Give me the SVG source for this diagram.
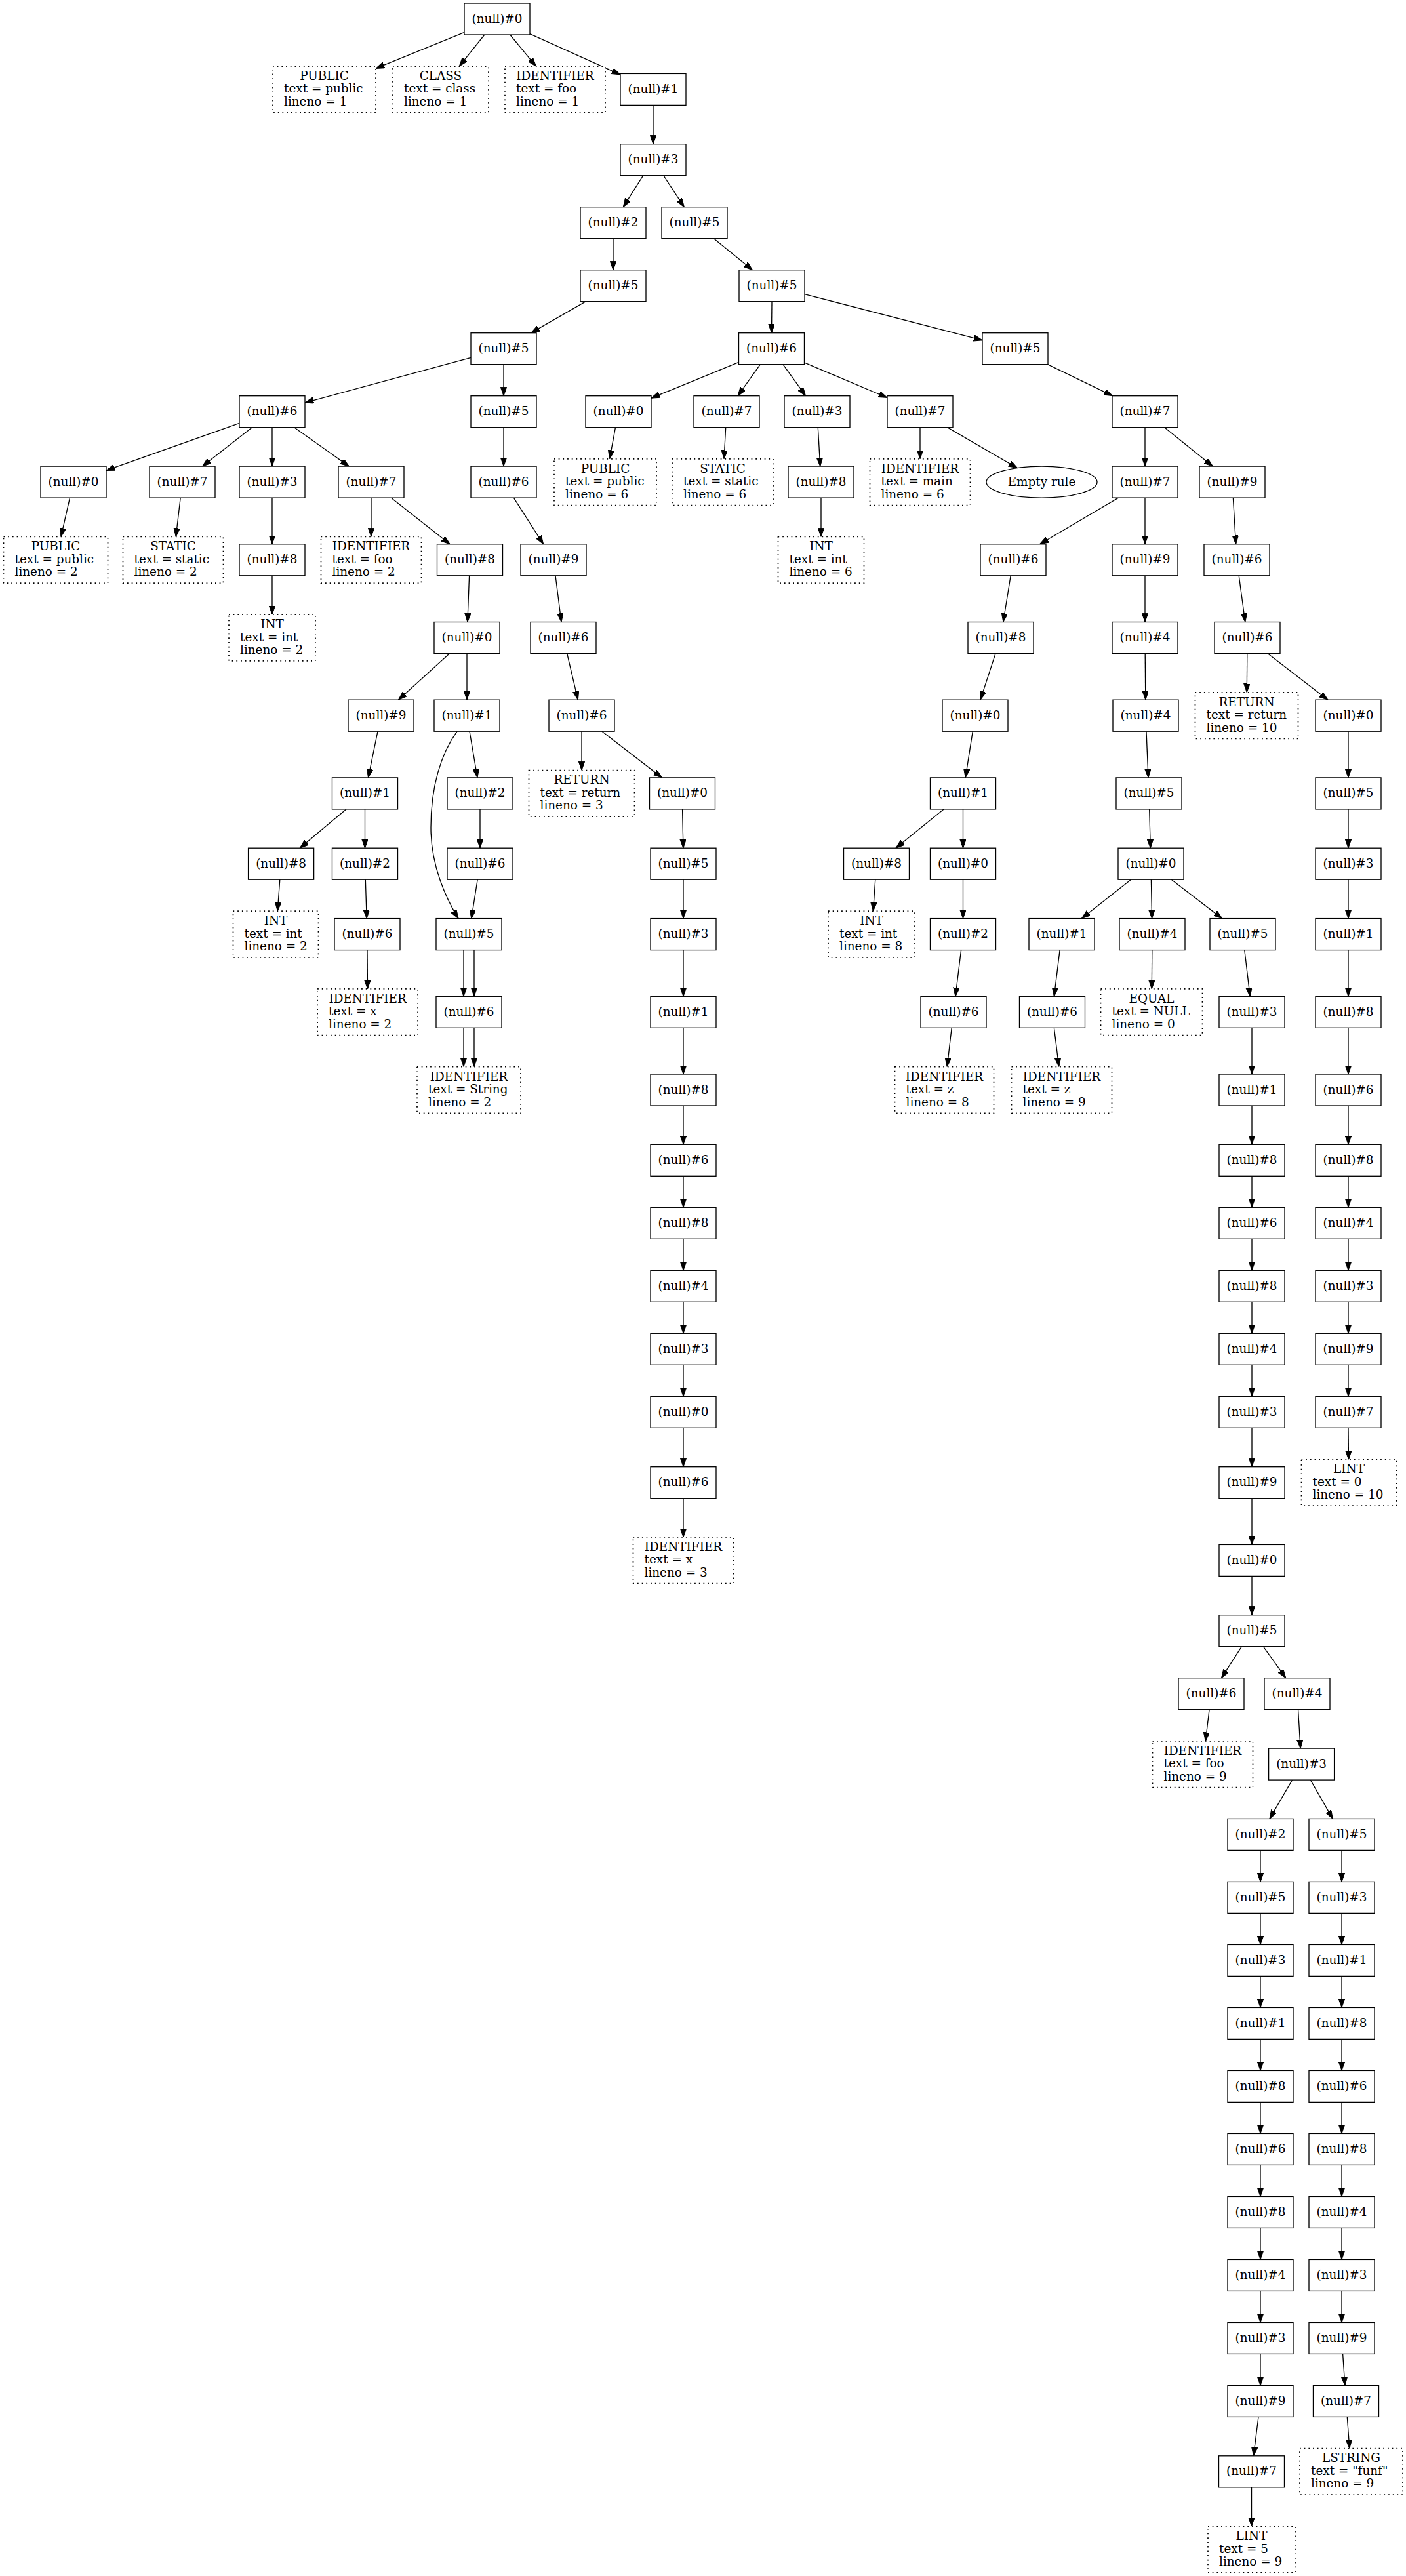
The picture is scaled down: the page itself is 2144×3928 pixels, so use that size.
<svg xmlns="http://www.w3.org/2000/svg" width="2144" height="3928" viewBox="0 0 2144 3928">
<style>
.b{fill:#fff;stroke:#000;stroke-width:1.33}
.d{fill:#fff;stroke:#000;stroke-width:1.7;stroke-dasharray:1.7 5}
text{font-family:"DejaVu Serif","Liberation Serif",serif;font-size:18.4px;fill:#000}
.c{text-anchor:middle}
.e line,.e path{stroke:#000;stroke-width:1.33;fill:none;marker-end:url(#ah)}
</style>
<defs>
<marker id="ah" markerUnits="userSpaceOnUse" markerWidth="14" markerHeight="10" refX="13.3" refY="4.67" orient="auto" viewBox="0 0 14 10"><path d="M0,0 L13.3,4.67 L0,9.33 z" fill="#000" stroke="#000" stroke-width="1"/></marker>
</defs>
<rect width="2144" height="3928" fill="#fff"/>
<g id="edges" class="e">
<line x1="708" y1="49.4" x2="573" y2="104.4"/>
<line x1="738.8" y1="53" x2="700.3" y2="101.1"/>
<line x1="777.8" y1="53" x2="817.4" y2="101.1"/>
<line x1="808" y1="51.6" x2="946" y2="113.8"/>
<line x1="996" y1="160.4" x2="996" y2="219.7"/>
<line x1="980.8" y1="267.7" x2="950.3" y2="315.7"/>
<line x1="1011.8" y1="267.7" x2="1043.3" y2="315.7"/>
<line x1="935" y1="363.7" x2="935" y2="411.7"/>
<line x1="1088.5" y1="363.7" x2="1147.5" y2="411.7"/>
<line x1="893.3" y1="459.7" x2="809.8" y2="507.7"/>
<line x1="1177" y1="459.7" x2="1176.5" y2="507.7"/>
<line x1="1227" y1="448.6" x2="1498" y2="518.8"/>
<line x1="718" y1="545.3" x2="465" y2="614.1"/>
<line x1="768" y1="555.7" x2="768" y2="603.7"/>
<line x1="1126.5" y1="552.3" x2="993" y2="607.1"/>
<line x1="1159.4" y1="555.7" x2="1125.1" y2="603.7"/>
<line x1="1193.9" y1="555.7" x2="1228.6" y2="603.7"/>
<line x1="1226.5" y1="552.9" x2="1353" y2="606.5"/>
<line x1="1597.5" y1="555.7" x2="1696.5" y2="603.7"/>
<line x1="365" y1="645.4" x2="162" y2="717.4"/>
<line x1="384.4" y1="651.7" x2="308.6" y2="711.1"/>
<line x1="415" y1="651.7" x2="415" y2="711.1"/>
<line x1="448.7" y1="651.7" x2="532.3" y2="711.1"/>
<line x1="768" y1="651.7" x2="768" y2="711.1"/>
<line x1="938.5" y1="651.7" x2="929.6" y2="699.8"/>
<line x1="1106.7" y1="651.7" x2="1104" y2="699.8"/>
<line x1="1247.3" y1="651.7" x2="1250.7" y2="711.1"/>
<line x1="1403" y1="651.7" x2="1403" y2="699.8"/>
<line x1="1444.5" y1="651.7" x2="1551.3" y2="713.6"/>
<line x1="1746" y1="651.7" x2="1746" y2="711.1"/>
<line x1="1775.7" y1="651.7" x2="1849.3" y2="711.1"/>
<line x1="106.5" y1="759.1" x2="93" y2="818.5"/>
<line x1="275.2" y1="759.1" x2="268.2" y2="818.5"/>
<line x1="415" y1="759.1" x2="415" y2="829.8"/>
<line x1="566" y1="759.1" x2="566" y2="818.5"/>
<line x1="596.4" y1="759.1" x2="686.1" y2="829.8"/>
<line x1="783.4" y1="759.1" x2="828.6" y2="829.8"/>
<line x1="1252" y1="759.1" x2="1252" y2="818.5"/>
<line x1="1705.4" y1="759.1" x2="1585.6" y2="829.8"/>
<line x1="1746" y1="759.1" x2="1746" y2="829.8"/>
<line x1="1880.4" y1="759.1" x2="1884.6" y2="829.8"/>
<line x1="415" y1="877.8" x2="415" y2="937.1"/>
<line x1="715.6" y1="877.8" x2="712.9" y2="948.5"/>
<line x1="847" y1="877.8" x2="856" y2="948.5"/>
<line x1="1541.2" y1="877.8" x2="1529.8" y2="948.5"/>
<line x1="1746" y1="877.8" x2="1746" y2="948.5"/>
<line x1="1889.2" y1="877.8" x2="1898.8" y2="948.5"/>
<line x1="685.5" y1="996.5" x2="607.5" y2="1067.2"/>
<line x1="712" y1="996.5" x2="712" y2="1067.2"/>
<line x1="864.7" y1="996.5" x2="881.3" y2="1067.2"/>
<line x1="1518.1" y1="996.5" x2="1494.9" y2="1067.2"/>
<line x1="1746.2" y1="996.5" x2="1746.8" y2="1067.2"/>
<line x1="1901.8" y1="996.5" x2="1901.3" y2="1055.8"/>
<line x1="1933.1" y1="996.5" x2="2024.9" y2="1067.2"/>
<line x1="576" y1="1115.2" x2="561.5" y2="1185.9"/>
<line x1="716" y1="1115.2" x2="728" y2="1185.9"/>
<path d="M697,1115.2 C672,1150 657,1200 657,1262 C657,1320 680,1370 699,1400.6"/>
<line x1="887" y1="1115.2" x2="887" y2="1174.5"/>
<line x1="918" y1="1115.2" x2="1009.5" y2="1185.9"/>
<line x1="1483.3" y1="1115.2" x2="1472.2" y2="1185.9"/>
<line x1="1748" y1="1115.2" x2="1751" y2="1185.9"/>
<line x1="2056" y1="1115.2" x2="2056" y2="1185.9"/>
<line x1="527.9" y1="1233.9" x2="457.2" y2="1293.2"/>
<line x1="556.5" y1="1233.9" x2="556.5" y2="1293.2"/>
<line x1="732" y1="1233.9" x2="732" y2="1293.2"/>
<line x1="1040.6" y1="1233.9" x2="1041.9" y2="1293.2"/>
<line x1="1439" y1="1233.9" x2="1366" y2="1293.2"/>
<line x1="1468.5" y1="1233.9" x2="1468.5" y2="1293.2"/>
<line x1="1752.7" y1="1233.9" x2="1754.3" y2="1293.2"/>
<line x1="2056" y1="1233.9" x2="2056" y2="1293.2"/>
<line x1="426.8" y1="1341.2" x2="423.2" y2="1389.2"/>
<line x1="557.3" y1="1341.2" x2="559.2" y2="1400.6"/>
<line x1="728.2" y1="1341.2" x2="718.8" y2="1400.6"/>
<line x1="1042" y1="1341.2" x2="1042" y2="1400.6"/>
<line x1="1334.8" y1="1341.2" x2="1331.5" y2="1389.2"/>
<line x1="1468.5" y1="1341.2" x2="1468.5" y2="1400.6"/>
<line x1="1724.6" y1="1341.2" x2="1649.4" y2="1400.6"/>
<line x1="1755.4" y1="1341.2" x2="1756.6" y2="1400.6"/>
<line x1="1786.3" y1="1341.2" x2="1863.7" y2="1400.6"/>
<line x1="2056" y1="1341.2" x2="2056" y2="1400.6"/>
<line x1="560" y1="1448.6" x2="560.5" y2="1507.9"/>
<line x1="707" y1="1448.6" x2="707" y2="1519.3"/>
<line x1="723" y1="1448.6" x2="723" y2="1519.3"/>
<line x1="1042" y1="1448.6" x2="1042" y2="1519.3"/>
<line x1="1465.6" y1="1448.6" x2="1456.9" y2="1519.3"/>
<line x1="1616.1" y1="1448.6" x2="1607.4" y2="1519.3"/>
<line x1="1756.8" y1="1448.6" x2="1756.3" y2="1507.9"/>
<line x1="1897.8" y1="1448.6" x2="1906.2" y2="1519.3"/>
<line x1="2056" y1="1448.6" x2="2056" y2="1519.3"/>
<line x1="707" y1="1567.3" x2="707" y2="1626.6"/>
<line x1="723" y1="1567.3" x2="723" y2="1626.6"/>
<line x1="1042" y1="1567.3" x2="1042" y2="1638"/>
<line x1="1451.2" y1="1567.3" x2="1444.2" y2="1626.6"/>
<line x1="1607.4" y1="1567.3" x2="1614.7" y2="1626.6"/>
<line x1="1909" y1="1567.3" x2="1909" y2="1638"/>
<line x1="2056" y1="1567.3" x2="2056" y2="1638"/>
<line x1="1042" y1="1686" x2="1042" y2="1745.3"/>
<line x1="1042" y1="1793.3" x2="1042" y2="1841.3"/>
<line x1="1042" y1="1889.3" x2="1042" y2="1937.3"/>
<line x1="1042" y1="1985.3" x2="1042" y2="2033.3"/>
<line x1="1042" y1="2081.3" x2="1042" y2="2129.3"/>
<line x1="1042" y1="2177.3" x2="1042" y2="2236.7"/>
<line x1="1042" y1="2284.7" x2="1042" y2="2344"/>
<line x1="1909" y1="1686" x2="1909" y2="1745.3"/>
<line x1="1909" y1="1793.3" x2="1909" y2="1841.3"/>
<line x1="1909" y1="1889.3" x2="1909" y2="1937.3"/>
<line x1="1909" y1="1985.3" x2="1909" y2="2033.3"/>
<line x1="1909" y1="2081.3" x2="1909" y2="2129.3"/>
<line x1="1909" y1="2177.3" x2="1909" y2="2236.7"/>
<line x1="1909" y1="2284.7" x2="1909" y2="2355.4"/>
<line x1="1909" y1="2403.4" x2="1909" y2="2462.7"/>
<line x1="2056" y1="1686" x2="2056" y2="1745.3"/>
<line x1="2056" y1="1793.3" x2="2056" y2="1841.3"/>
<line x1="2056" y1="1889.3" x2="2056" y2="1937.3"/>
<line x1="2056" y1="1985.3" x2="2056" y2="2033.3"/>
<line x1="2056" y1="2081.3" x2="2056" y2="2129.3"/>
<line x1="2056" y1="2177.3" x2="2056.5" y2="2225.4"/>
<line x1="1893.5" y1="2510.7" x2="1862.5" y2="2558.7"/>
<line x1="1926.3" y1="2510.7" x2="1960.8" y2="2558.7"/>
<line x1="1844.1" y1="2606.7" x2="1838.3" y2="2654.8"/>
<line x1="1979.5" y1="2606.7" x2="1983.1" y2="2666.1"/>
<line x1="1970.6" y1="2714.1" x2="1936" y2="2773.4"/>
<line x1="1998.3" y1="2714.1" x2="2032.3" y2="2773.4"/>
<line x1="1922" y1="2821.4" x2="1922" y2="2869.4"/>
<line x1="1922" y1="2917.4" x2="1922" y2="2965.4"/>
<line x1="1922" y1="3013.4" x2="1922" y2="3061.4"/>
<line x1="1922" y1="3109.4" x2="1922" y2="3157.4"/>
<line x1="1922" y1="3205.4" x2="1922" y2="3253.4"/>
<line x1="1922" y1="3301.4" x2="1922" y2="3349.4"/>
<line x1="1922" y1="3397.4" x2="1922" y2="3445.4"/>
<line x1="1922" y1="3493.4" x2="1922" y2="3541.4"/>
<line x1="1922" y1="3589.4" x2="1922" y2="3637.4"/>
<line x1="1919" y1="3685.4" x2="1911.5" y2="3744.8"/>
<line x1="1908.5" y1="3792.8" x2="1908.5" y2="3852.2"/>
<line x1="2046" y1="2821.4" x2="2046" y2="2869.4"/>
<line x1="2046" y1="2917.4" x2="2046" y2="2965.4"/>
<line x1="2046" y1="3013.4" x2="2046" y2="3061.4"/>
<line x1="2046" y1="3109.4" x2="2046" y2="3157.4"/>
<line x1="2046" y1="3205.4" x2="2046" y2="3253.4"/>
<line x1="2046" y1="3301.4" x2="2046" y2="3349.4"/>
<line x1="2046" y1="3397.4" x2="2046" y2="3445.4"/>
<line x1="2046" y1="3493.4" x2="2046" y2="3541.4"/>
<line x1="2047.6" y1="3589.4" x2="2050.9" y2="3637.4"/>
<line x1="2054.3" y1="3685.4" x2="2057.9" y2="3733.5"/>
</g>
<g id="n0"><rect class="b" x="708" y="5" width="100" height="48"/><text class="c" x="758" y="34.5">(null)#0</text></g>
<g id="n1"><rect class="b" x="946" y="112.4" width="100" height="48"/><text class="c" x="996" y="141.9">(null)#1</text></g>
<g id="n2"><rect class="b" x="946" y="219.7" width="100" height="48"/><text class="c" x="996" y="249.2">(null)#3</text></g>
<g id="n3"><rect class="b" x="885" y="315.7" width="100" height="48"/><text class="c" x="935" y="345.2">(null)#2</text></g>
<g id="n4"><rect class="b" x="1009" y="315.7" width="100" height="48"/><text class="c" x="1059" y="345.2">(null)#5</text></g>
<g id="n5"><rect class="b" x="885" y="411.7" width="100" height="48"/><text class="c" x="935" y="441.2">(null)#5</text></g>
<g id="n6"><rect class="b" x="1127" y="411.7" width="100" height="48"/><text class="c" x="1177" y="441.2">(null)#5</text></g>
<g id="n7"><rect class="b" x="718" y="507.7" width="100" height="48"/><text class="c" x="768" y="537.2">(null)#5</text></g>
<g id="n8"><rect class="b" x="1126.5" y="507.7" width="100" height="48"/><text class="c" x="1176.5" y="537.2">(null)#6</text></g>
<g id="n9"><rect class="b" x="1498" y="507.7" width="100" height="48"/><text class="c" x="1548" y="537.2">(null)#5</text></g>
<g id="n10"><rect class="b" x="365" y="603.7" width="100" height="48"/><text class="c" x="415" y="633.2">(null)#6</text></g>
<g id="n11"><rect class="b" x="718" y="603.7" width="100" height="48"/><text class="c" x="768" y="633.2">(null)#5</text></g>
<g id="n12"><rect class="b" x="893" y="603.7" width="100" height="48"/><text class="c" x="943" y="633.2">(null)#0</text></g>
<g id="n13"><rect class="b" x="1058" y="603.7" width="100" height="48"/><text class="c" x="1108" y="633.2">(null)#7</text></g>
<g id="n14"><rect class="b" x="1196" y="603.7" width="100" height="48"/><text class="c" x="1246" y="633.2">(null)#3</text></g>
<g id="n15"><rect class="b" x="1353" y="603.7" width="100" height="48"/><text class="c" x="1403" y="633.2">(null)#7</text></g>
<g id="n16"><rect class="b" x="1696" y="603.7" width="100" height="48"/><text class="c" x="1746" y="633.2">(null)#7</text></g>
<g id="n17"><rect class="b" x="62" y="711.1" width="100" height="48"/><text class="c" x="112" y="740.6">(null)#0</text></g>
<g id="n18"><rect class="b" x="228" y="711.1" width="100" height="48"/><text class="c" x="278" y="740.6">(null)#7</text></g>
<g id="n19"><rect class="b" x="365" y="711.1" width="100" height="48"/><text class="c" x="415" y="740.6">(null)#3</text></g>
<g id="n20"><rect class="b" x="516" y="711.1" width="100" height="48"/><text class="c" x="566" y="740.6">(null)#7</text></g>
<g id="n21"><rect class="b" x="718" y="711.1" width="100" height="48"/><text class="c" x="768" y="740.6">(null)#6</text></g>
<g id="n22"><rect class="b" x="1202" y="711.1" width="100" height="48"/><text class="c" x="1252" y="740.6">(null)#8</text></g>
<g id="n23"><rect class="b" x="1696" y="711.1" width="100" height="48"/><text class="c" x="1746" y="740.6">(null)#7</text></g>
<g id="n24"><rect class="b" x="1829" y="711.1" width="100" height="48"/><text class="c" x="1879" y="740.6">(null)#9</text></g>
<g id="n25"><rect class="b" x="365" y="829.8" width="100" height="48"/><text class="c" x="415" y="859.3">(null)#8</text></g>
<g id="n26"><rect class="b" x="666.5" y="829.8" width="100" height="48"/><text class="c" x="716.5" y="859.3">(null)#8</text></g>
<g id="n27"><rect class="b" x="794" y="829.8" width="100" height="48"/><text class="c" x="844" y="859.3">(null)#9</text></g>
<g id="n28"><rect class="b" x="1495" y="829.8" width="100" height="48"/><text class="c" x="1545" y="859.3">(null)#6</text></g>
<g id="n29"><rect class="b" x="1696" y="829.8" width="100" height="48"/><text class="c" x="1746" y="859.3">(null)#9</text></g>
<g id="n30"><rect class="b" x="1836" y="829.8" width="100" height="48"/><text class="c" x="1886" y="859.3">(null)#6</text></g>
<g id="n31"><rect class="b" x="662" y="948.5" width="100" height="48"/><text class="c" x="712" y="978">(null)#0</text></g>
<g id="n32"><rect class="b" x="809" y="948.5" width="100" height="48"/><text class="c" x="859" y="978">(null)#6</text></g>
<g id="n33"><rect class="b" x="1476" y="948.5" width="100" height="48"/><text class="c" x="1526" y="978">(null)#8</text></g>
<g id="n34"><rect class="b" x="1696" y="948.5" width="100" height="48"/><text class="c" x="1746" y="978">(null)#4</text></g>
<g id="n35"><rect class="b" x="1852" y="948.5" width="100" height="48"/><text class="c" x="1902" y="978">(null)#6</text></g>
<g id="n36"><rect class="b" x="531" y="1067.2" width="100" height="48"/><text class="c" x="581" y="1096.7">(null)#9</text></g>
<g id="n37"><rect class="b" x="662" y="1067.2" width="100" height="48"/><text class="c" x="712" y="1096.7">(null)#1</text></g>
<g id="n38"><rect class="b" x="837" y="1067.2" width="100" height="48"/><text class="c" x="887" y="1096.7">(null)#6</text></g>
<g id="n39"><rect class="b" x="1437" y="1067.2" width="100" height="48"/><text class="c" x="1487" y="1096.7">(null)#0</text></g>
<g id="n40"><rect class="b" x="1697" y="1067.2" width="100" height="48"/><text class="c" x="1747" y="1096.7">(null)#4</text></g>
<g id="n41"><rect class="b" x="2006" y="1067.2" width="100" height="48"/><text class="c" x="2056" y="1096.7">(null)#0</text></g>
<g id="n42"><rect class="b" x="506.5" y="1185.9" width="100" height="48"/><text class="c" x="556.5" y="1215.4">(null)#1</text></g>
<g id="n43"><rect class="b" x="682" y="1185.9" width="100" height="48"/><text class="c" x="732" y="1215.4">(null)#2</text></g>
<g id="n44"><rect class="b" x="990.5" y="1185.9" width="100" height="48"/><text class="c" x="1040.5" y="1215.4">(null)#0</text></g>
<g id="n45"><rect class="b" x="1418.5" y="1185.9" width="100" height="48"/><text class="c" x="1468.5" y="1215.4">(null)#1</text></g>
<g id="n46"><rect class="b" x="1702" y="1185.9" width="100" height="48"/><text class="c" x="1752" y="1215.4">(null)#5</text></g>
<g id="n47"><rect class="b" x="2006" y="1185.9" width="100" height="48"/><text class="c" x="2056" y="1215.4">(null)#5</text></g>
<g id="n48"><rect class="b" x="378.6" y="1293.2" width="100" height="48"/><text class="c" x="428.6" y="1322.7">(null)#8</text></g>
<g id="n50"><rect class="b" x="506.5" y="1293.2" width="100" height="48"/><text class="c" x="556.5" y="1322.7">(null)#2</text></g>
<g id="n51"><rect class="b" x="682" y="1293.2" width="100" height="48"/><text class="c" x="732" y="1322.7">(null)#6</text></g>
<g id="n52"><rect class="b" x="992" y="1293.2" width="100" height="48"/><text class="c" x="1042" y="1322.7">(null)#5</text></g>
<g id="n53"><rect class="b" x="1286.5" y="1293.2" width="100" height="48"/><text class="c" x="1336.5" y="1322.7">(null)#8</text></g>
<g id="n54"><rect class="b" x="1418.5" y="1293.2" width="100" height="48"/><text class="c" x="1468.5" y="1322.7">(null)#0</text></g>
<g id="n55"><rect class="b" x="1705" y="1293.2" width="100" height="48"/><text class="c" x="1755" y="1322.7">(null)#0</text></g>
<g id="n56"><rect class="b" x="2006" y="1293.2" width="100" height="48"/><text class="c" x="2056" y="1322.7">(null)#3</text></g>
<g id="n57"><rect class="b" x="510" y="1400.6" width="100" height="48"/><text class="c" x="560" y="1430.1">(null)#6</text></g>
<g id="n49"><rect class="b" x="665" y="1400.6" width="100" height="48"/><text class="c" x="715" y="1430.1">(null)#5</text></g>
<g id="n58"><rect class="b" x="992" y="1400.6" width="100" height="48"/><text class="c" x="1042" y="1430.1">(null)#3</text></g>
<g id="n59"><rect class="b" x="1418.5" y="1400.6" width="100" height="48"/><text class="c" x="1468.5" y="1430.1">(null)#2</text></g>
<g id="n60"><rect class="b" x="1569" y="1400.6" width="100" height="48"/><text class="c" x="1619" y="1430.1">(null)#1</text></g>
<g id="n61"><rect class="b" x="1707" y="1400.6" width="100" height="48"/><text class="c" x="1757" y="1430.1">(null)#4</text></g>
<g id="n62"><rect class="b" x="1845" y="1400.6" width="100" height="48"/><text class="c" x="1895" y="1430.1">(null)#5</text></g>
<g id="n63"><rect class="b" x="2006" y="1400.6" width="100" height="48"/><text class="c" x="2056" y="1430.1">(null)#1</text></g>
<g id="n64"><rect class="b" x="665" y="1519.3" width="100" height="48"/><text class="c" x="715" y="1548.8">(null)#6</text></g>
<g id="n65"><rect class="b" x="992" y="1519.3" width="100" height="48"/><text class="c" x="1042" y="1548.8">(null)#1</text></g>
<g id="n66"><rect class="b" x="1404" y="1519.3" width="100" height="48"/><text class="c" x="1454" y="1548.8">(null)#6</text></g>
<g id="n67"><rect class="b" x="1554.5" y="1519.3" width="100" height="48"/><text class="c" x="1604.5" y="1548.8">(null)#6</text></g>
<g id="n68"><rect class="b" x="1859" y="1519.3" width="100" height="48"/><text class="c" x="1909" y="1548.8">(null)#3</text></g>
<g id="n69"><rect class="b" x="2006" y="1519.3" width="100" height="48"/><text class="c" x="2056" y="1548.8">(null)#8</text></g>
<g id="n70"><rect class="b" x="992" y="1638" width="100" height="48"/><text class="c" x="1042" y="1667.5">(null)#8</text></g>
<g id="n71"><rect class="b" x="1859" y="1638" width="100" height="48"/><text class="c" x="1909" y="1667.5">(null)#1</text></g>
<g id="n72"><rect class="b" x="2006" y="1638" width="100" height="48"/><text class="c" x="2056" y="1667.5">(null)#6</text></g>
<g id="n73"><rect class="b" x="992" y="1745.3" width="100" height="48"/><text class="c" x="1042" y="1774.8">(null)#6</text></g>
<g id="n74"><rect class="b" x="992" y="1841.3" width="100" height="48"/><text class="c" x="1042" y="1870.8">(null)#8</text></g>
<g id="n75"><rect class="b" x="992" y="1937.3" width="100" height="48"/><text class="c" x="1042" y="1966.8">(null)#4</text></g>
<g id="n76"><rect class="b" x="992" y="2033.3" width="100" height="48"/><text class="c" x="1042" y="2062.8">(null)#3</text></g>
<g id="n77"><rect class="b" x="992" y="2129.3" width="100" height="48"/><text class="c" x="1042" y="2158.8">(null)#0</text></g>
<g id="n78"><rect class="b" x="992" y="2236.7" width="100" height="48"/><text class="c" x="1042" y="2266.2">(null)#6</text></g>
<g id="n79"><rect class="b" x="1859" y="1745.3" width="100" height="48"/><text class="c" x="1909" y="1774.8">(null)#8</text></g>
<g id="n80"><rect class="b" x="1859" y="1841.3" width="100" height="48"/><text class="c" x="1909" y="1870.8">(null)#6</text></g>
<g id="n81"><rect class="b" x="1859" y="1937.3" width="100" height="48"/><text class="c" x="1909" y="1966.8">(null)#8</text></g>
<g id="n82"><rect class="b" x="1859" y="2033.3" width="100" height="48"/><text class="c" x="1909" y="2062.8">(null)#4</text></g>
<g id="n83"><rect class="b" x="1859" y="2129.3" width="100" height="48"/><text class="c" x="1909" y="2158.8">(null)#3</text></g>
<g id="n84"><rect class="b" x="1859" y="2236.7" width="100" height="48"/><text class="c" x="1909" y="2266.2">(null)#9</text></g>
<g id="n85"><rect class="b" x="1859" y="2355.4" width="100" height="48"/><text class="c" x="1909" y="2384.9">(null)#0</text></g>
<g id="n86"><rect class="b" x="1859" y="2462.7" width="100" height="48"/><text class="c" x="1909" y="2492.2">(null)#5</text></g>
<g id="n87"><rect class="b" x="2006" y="1745.3" width="100" height="48"/><text class="c" x="2056" y="1774.8">(null)#8</text></g>
<g id="n88"><rect class="b" x="2006" y="1841.3" width="100" height="48"/><text class="c" x="2056" y="1870.8">(null)#4</text></g>
<g id="n89"><rect class="b" x="2006" y="1937.3" width="100" height="48"/><text class="c" x="2056" y="1966.8">(null)#3</text></g>
<g id="n90"><rect class="b" x="2006" y="2033.3" width="100" height="48"/><text class="c" x="2056" y="2062.8">(null)#9</text></g>
<g id="n91"><rect class="b" x="2006" y="2129.3" width="100" height="48"/><text class="c" x="2056" y="2158.8">(null)#7</text></g>
<g id="n92"><rect class="b" x="1797" y="2558.7" width="100" height="48"/><text class="c" x="1847" y="2588.2">(null)#6</text></g>
<g id="n93"><rect class="b" x="1928" y="2558.7" width="100" height="48"/><text class="c" x="1978" y="2588.2">(null)#4</text></g>
<g id="n94"><rect class="b" x="1934.6" y="2666.1" width="100" height="48"/><text class="c" x="1984.6" y="2695.6">(null)#3</text></g>
<g id="n95"><rect class="b" x="1872" y="2773.4" width="100" height="48"/><text class="c" x="1922" y="2802.9">(null)#2</text></g>
<g id="n96"><rect class="b" x="1872" y="2869.4" width="100" height="48"/><text class="c" x="1922" y="2898.9">(null)#5</text></g>
<g id="n97"><rect class="b" x="1872" y="2965.4" width="100" height="48"/><text class="c" x="1922" y="2994.9">(null)#3</text></g>
<g id="n98"><rect class="b" x="1872" y="3061.4" width="100" height="48"/><text class="c" x="1922" y="3090.9">(null)#1</text></g>
<g id="n99"><rect class="b" x="1872" y="3157.4" width="100" height="48"/><text class="c" x="1922" y="3186.9">(null)#8</text></g>
<g id="n100"><rect class="b" x="1872" y="3253.4" width="100" height="48"/><text class="c" x="1922" y="3282.9">(null)#6</text></g>
<g id="n101"><rect class="b" x="1872" y="3349.4" width="100" height="48"/><text class="c" x="1922" y="3378.9">(null)#8</text></g>
<g id="n102"><rect class="b" x="1872" y="3445.4" width="100" height="48"/><text class="c" x="1922" y="3474.9">(null)#4</text></g>
<g id="n103"><rect class="b" x="1872" y="3541.4" width="100" height="48"/><text class="c" x="1922" y="3570.9">(null)#3</text></g>
<g id="n104"><rect class="b" x="1872" y="3637.4" width="100" height="48"/><text class="c" x="1922" y="3666.9">(null)#9</text></g>
<g id="n105"><rect class="b" x="1858.5" y="3744.8" width="100" height="48"/><text class="c" x="1908.5" y="3774.3">(null)#7</text></g>
<g id="n106"><rect class="b" x="1996" y="2773.4" width="100" height="48"/><text class="c" x="2046" y="2802.9">(null)#5</text></g>
<g id="n107"><rect class="b" x="1996" y="2869.4" width="100" height="48"/><text class="c" x="2046" y="2898.9">(null)#3</text></g>
<g id="n108"><rect class="b" x="1996" y="2965.4" width="100" height="48"/><text class="c" x="2046" y="2994.9">(null)#1</text></g>
<g id="n109"><rect class="b" x="1996" y="3061.4" width="100" height="48"/><text class="c" x="2046" y="3090.9">(null)#8</text></g>
<g id="n110"><rect class="b" x="1996" y="3157.4" width="100" height="48"/><text class="c" x="2046" y="3186.9">(null)#6</text></g>
<g id="n111"><rect class="b" x="1996" y="3253.4" width="100" height="48"/><text class="c" x="2046" y="3282.9">(null)#8</text></g>
<g id="n112"><rect class="b" x="1996" y="3349.4" width="100" height="48"/><text class="c" x="2046" y="3378.9">(null)#4</text></g>
<g id="n113"><rect class="b" x="1996" y="3445.4" width="100" height="48"/><text class="c" x="2046" y="3474.9">(null)#3</text></g>
<g id="n114"><rect class="b" x="1996" y="3541.4" width="100" height="48"/><text class="c" x="2046" y="3570.9">(null)#9</text></g>
<g id="n115"><rect class="b" x="2002.5" y="3637.4" width="100" height="48"/><text class="c" x="2052.5" y="3666.9">(null)#7</text></g>
<g id="d1"><rect class="d" x="416" y="101.1" width="157" height="70.7"/><text class="c" x="494.5" y="121.9">PUBLIC</text><text x="433" y="141.4">text = public</text><text x="433" y="160.9">lineno = 1</text></g>
<g id="d2"><rect class="d" x="599" y="101.1" width="146" height="70.7"/><text class="c" x="672" y="121.9">CLASS</text><text x="616" y="141.4">text = class</text><text x="616" y="160.9">lineno = 1</text></g>
<g id="d3"><rect class="d" x="770" y="101.1" width="153" height="70.7"/><text class="c" x="846.5" y="121.9">IDENTIFIER</text><text x="787" y="141.4">text = foo</text><text x="787" y="160.9">lineno = 1</text></g>
<g id="d4"><rect class="d" x="845" y="699.8" width="156" height="70.7"/><text class="c" x="923" y="720.6">PUBLIC</text><text x="862" y="740.1">text = public</text><text x="862" y="759.6">lineno = 6</text></g>
<g id="d5"><rect class="d" x="1025" y="699.8" width="154" height="70.7"/><text class="c" x="1102" y="720.6">STATIC</text><text x="1042" y="740.1">text = static</text><text x="1042" y="759.6">lineno = 6</text></g>
<g id="d6"><rect class="d" x="1326.5" y="699.8" width="153" height="70.7"/><text class="c" x="1403" y="720.6">IDENTIFIER</text><text x="1343.5" y="740.1">text = main</text><text x="1343.5" y="759.6">lineno = 6</text></g>
<g id="e1"><ellipse cx="1588.5" cy="735.1" rx="84.5" ry="24" fill="#fff" stroke="#000" stroke-width="1.33"/><text class="c" x="1588.5" y="740.6">Empty rule</text></g>
<g id="d7"><rect class="d" x="5.5" y="818.5" width="159" height="70.7"/><text class="c" x="85" y="839.3">PUBLIC</text><text x="22.5" y="858.8">text = public</text><text x="22.5" y="878.3">lineno = 2</text></g>
<g id="d8"><rect class="d" x="187.5" y="818.5" width="153" height="70.7"/><text class="c" x="264" y="839.3">STATIC</text><text x="204.5" y="858.8">text = static</text><text x="204.5" y="878.3">lineno = 2</text></g>
<g id="d9"><rect class="d" x="489.5" y="818.5" width="153" height="70.7"/><text class="c" x="566" y="839.3">IDENTIFIER</text><text x="506.5" y="858.8">text = foo</text><text x="506.5" y="878.3">lineno = 2</text></g>
<g id="d10"><rect class="d" x="1186.5" y="818.5" width="131" height="70.7"/><text class="c" x="1252" y="839.3">INT</text><text x="1203.5" y="858.8">text = int</text><text x="1203.5" y="878.3">lineno = 6</text></g>
<g id="d11"><rect class="d" x="349" y="937.1" width="132" height="70.7"/><text class="c" x="415" y="958">INT</text><text x="366" y="977.5">text = int</text><text x="366" y="997">lineno = 2</text></g>
<g id="d12"><rect class="d" x="1822.5" y="1055.8" width="157" height="70.7"/><text class="c" x="1901" y="1076.7">RETURN</text><text x="1839.5" y="1096.2">text = return</text><text x="1839.5" y="1115.7">lineno = 10</text></g>
<g id="d13"><rect class="d" x="806.5" y="1174.5" width="161" height="70.7"/><text class="c" x="887" y="1195.4">RETURN</text><text x="823.5" y="1214.9">text = return</text><text x="823.5" y="1234.4">lineno = 3</text></g>
<g id="d14"><rect class="d" x="355.5" y="1389.2" width="130" height="70.7"/><text class="c" x="420.5" y="1410.1">INT</text><text x="372.5" y="1429.6">text = int</text><text x="372.5" y="1449.1">lineno = 2</text></g>
<g id="d15"><rect class="d" x="1263" y="1389.2" width="132" height="70.7"/><text class="c" x="1329" y="1410.1">INT</text><text x="1280" y="1429.6">text = int</text><text x="1280" y="1449.1">lineno = 8</text></g>
<g id="d16"><rect class="d" x="484.1" y="1507.9" width="153" height="70.7"/><text class="c" x="560.6" y="1528.8">IDENTIFIER</text><text x="501.1" y="1548.3">text = x</text><text x="501.1" y="1567.8">lineno = 2</text></g>
<g id="d17"><rect class="d" x="1678.5" y="1507.9" width="155" height="70.7"/><text class="c" x="1756" y="1528.8">EQUAL</text><text x="1695.5" y="1548.3">text = NULL</text><text x="1695.5" y="1567.8">lineno = 0</text></g>
<g id="d18"><rect class="d" x="636" y="1626.6" width="158" height="70.7"/><text class="c" x="715" y="1647.5">IDENTIFIER</text><text x="653" y="1667">text = String</text><text x="653" y="1686.5">lineno = 2</text></g>
<g id="d19"><rect class="d" x="1364.5" y="1626.6" width="151" height="70.7"/><text class="c" x="1440" y="1647.5">IDENTIFIER</text><text x="1381.5" y="1667">text = z</text><text x="1381.5" y="1686.5">lineno = 8</text></g>
<g id="d20"><rect class="d" x="1542.5" y="1626.6" width="153" height="70.7"/><text class="c" x="1619" y="1647.5">IDENTIFIER</text><text x="1559.5" y="1667">text = z</text><text x="1559.5" y="1686.5">lineno = 9</text></g>
<g id="d21"><rect class="d" x="1984.5" y="2225.4" width="145" height="70.7"/><text class="c" x="2057" y="2246.2">LINT</text><text x="2001.5" y="2265.7">text = 0</text><text x="2001.5" y="2285.2">lineno = 10</text></g>
<g id="d22"><rect class="d" x="965.5" y="2344" width="153" height="70.7"/><text class="c" x="1042" y="2364.9">IDENTIFIER</text><text x="982.5" y="2384.4">text = x</text><text x="982.5" y="2403.9">lineno = 3</text></g>
<g id="d23"><rect class="d" x="1757.5" y="2654.8" width="153" height="70.7"/><text class="c" x="1834" y="2675.6">IDENTIFIER</text><text x="1774.5" y="2695.1">text = foo</text><text x="1774.5" y="2714.6">lineno = 9</text></g>
<g id="d24"><rect class="d" x="1982" y="3733.5" width="157" height="70.7"/><text class="c" x="2060.5" y="3754.3">LSTRING</text><text x="1999" y="3773.8">text = "funf"</text><text x="1999" y="3793.3">lineno = 9</text></g>
<g id="d25"><rect class="d" x="1842" y="3852.2" width="133" height="70.7"/><text class="c" x="1908.5" y="3873">LINT</text><text x="1859" y="3892.5">text = 5</text><text x="1859" y="3912">lineno = 9</text></g>
</svg>
